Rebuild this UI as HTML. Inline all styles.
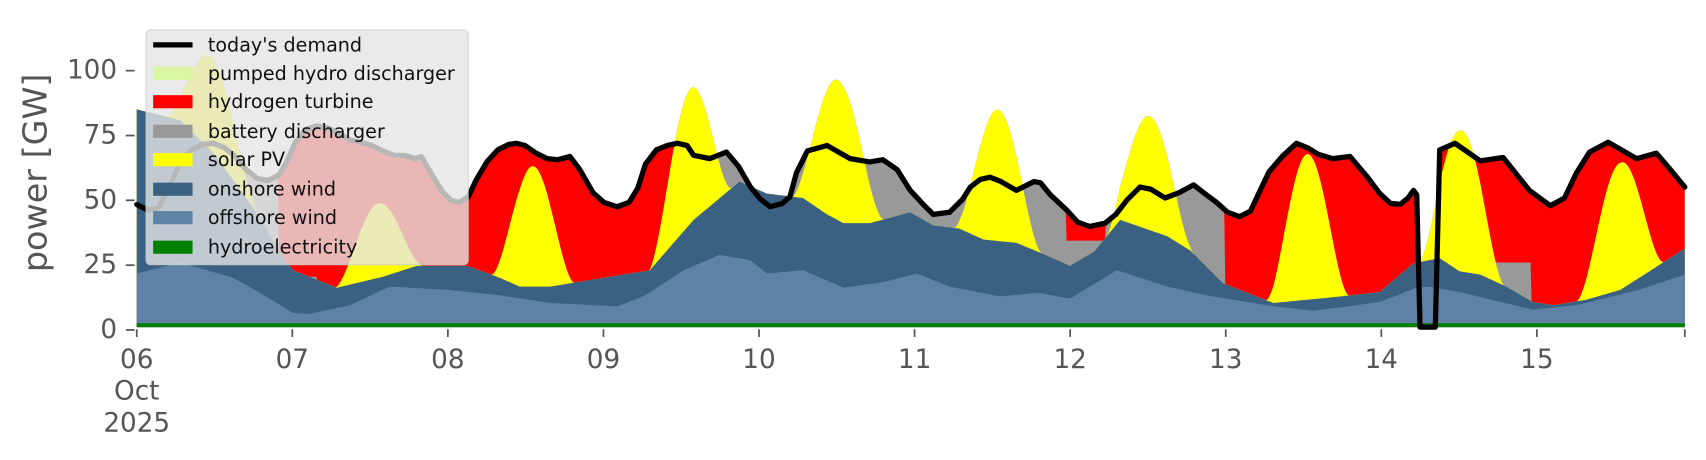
<!DOCTYPE html>
<html><head><meta charset="utf-8">
<style>
html,body{margin:0;padding:0;background:#fff;}
svg{display:block;}
text{font-family:"DejaVu Sans","Liberation Sans",sans-serif;}
</style></head>
<body>
<svg id="c" width="1706" height="460" viewBox="0 0 1559.4 420.5" preserveAspectRatio="none" xmlns="http://www.w3.org/2000/svg">
<g id="fills"></g>
<polyline id="dem" fill="none" stroke="#000" stroke-width="4.8" stroke-linejoin="round" stroke-linecap="round" points=""/>
<!-- legend -->
<rect x="133.5" y="27.4" width="294.5" height="214.6" rx="4" ry="4" fill="#e5e5e5" fill-opacity="0.8" stroke="#cccccc" stroke-opacity="0.8" stroke-width="1"/>
<line x1="140" y1="41" x2="176" y2="41" stroke="#000" stroke-width="4.8"/>
<rect x="140" y="61" width="36" height="12" fill="#d9f7a1"/>
<rect x="140" y="87" width="36" height="12" fill="#ff0000"/>
<rect x="140" y="114" width="36" height="12" fill="#999999"/>
<rect x="140" y="140" width="36" height="12" fill="#ffff00"/>
<rect x="140" y="167" width="36" height="12" fill="#3b6182"/>
<rect x="140" y="193" width="36" height="12" fill="#5d82a5"/>
<rect x="140" y="220" width="36" height="12" fill="#008000"/>
<g font-size="17.5" fill="#111" dominant-baseline="central">
<text x="190" y="41">today's demand</text>
<text x="190" y="67">pumped hydro discharger</text>
<text x="190" y="93">hydrogen turbine</text>
<text x="190" y="120">battery discharger</text>
<text x="190" y="146">solar PV</text>
<text x="190" y="173">onshore wind</text>
<text x="190" y="199">offshore wind</text>
<text x="190" y="226">hydroelectricity</text>
</g>
<!-- y axis -->
<g stroke="#555" stroke-width="1.6">
<line x1="115" y1="64.6" x2="123" y2="64.6"/>
<line x1="115" y1="123.9" x2="123" y2="123.9"/>
<line x1="115" y1="183.1" x2="123" y2="183.1"/>
<line x1="115" y1="242.4" x2="123" y2="242.4"/>
<line x1="115" y1="301.6" x2="123" y2="301.6"/>
</g>
<g font-size="24" fill="#555" text-anchor="end" dominant-baseline="central">
<text x="107" y="64.6">100</text>
<text x="107" y="123.9">75</text>
<text x="107" y="183.1">50</text>
<text x="107" y="242.4">25</text>
<text x="107" y="301.6">0</text>
</g>
<text transform="translate(32,158) rotate(-90)" font-size="30.5" fill="#555" text-anchor="middle" dominant-baseline="central">power [GW]</text>
<!-- x axis -->
<g id="xt" stroke="#555" stroke-width="1.6"></g>
<g font-size="24" fill="#555" text-anchor="middle" dominant-baseline="central">
<text x="125" y="329">06</text>
<text x="125" y="358">Oct</text>
<text x="125" y="387">2025</text>
<text x="267.2" y="329">07</text>
<text x="409.4" y="329">08</text>
<text x="551.6" y="329">09</text>
<text x="693.8" y="329">10</text>
<text x="836" y="329">11</text>
<text x="978.2" y="329">12</text>
<text x="1120.4" y="329">13</text>
<text x="1262.6" y="329">14</text>
<text x="1404.8" y="329">15</text>
</g>
</svg>
<script>
(function(){
var D=[125,187,135,192,145,190,155,170,165,148,175,137,185,132,195,131,205,135,215,143,225,155,235,163,245,165,255,160,262,148,270,130,280,118,290,115,300,117,310,122,320,128,330,130,340,133,350,138,360,142,370,142,380,145,385,143,395,160,405,176,412,183,420,185,428,180,435,165,445,148,455,137,465,132,472,131,480,133,490,140,500,145,510,146,521,143,530,155,542,176,552,185,564,189,575,185,583,172,590,150,600,137,610,133,619,131,628,133,634,142,649,145,664,139,675,152,686,171,695,182,704,189,715,186,722,180,728,158,738,138,756,133,777,145,795,148,807,146,820,155,832,174,845,188,853,196,868,194,880,182,887,171,896,164,905,162,915,166,929,174,945,166,951,167,960,178,975,192,985,203,996,207,1010,204,1020,196,1030,183,1042,171,1052,173,1065,181,1078,176,1091,169,1100,176,1112,185,1122,194,1133,198,1143,193,1150,178,1160,157,1172,143,1185,131,1195,135,1205,141,1218,145,1234,143,1250,162,1261,176.6,1271,186,1280,186.7,1287,181,1292,174,1295,178,1298,299,1312,299,1316,137,1330,131,1353,147,1374,144,1398,174,1417,188,1430,181,1441,158,1453,139,1470,130,1496,145,1514,140,1526,154,1540,171];
var ON=[125,100,165,110,195,140,231,189,262,240,268,247,308,263,350,253,381,243,427,243,457,254,475,262,503,262,521,259,594,247,634,201,676,166,701,177,734,181,756,196,771,204,795,204,832,194,853,206,877,209,899,219,929,222,951,231,978,243,1000,230,1024,201,1067,216,1088,229,1118,259,1164,277,1225,271,1261,267,1292,240.6,1316,236,1334,248,1353,251,1377,262,1401,276,1420,279,1450,274,1481,265,1514,244,1540,227];
var OFF=[125,250,165,240,213,254,228,262,268,286,283,287,320,279,356,262,411,265,457,270,503,277,564,280,588,271,625,247,658,233,686,238,701,250,734,247,771,263,807,258,838,250,868,262,914,271,945,268,951,268,978,273,1021,247,1067,262,1103,270,1164,280,1200,284,1225,281,1261,276,1295,263,1306,262,1334,267,1401,283,1441,279,1498,265,1540,251];
var bells=[[194,86,42],[346,68,40],[487,110,38],[631,123,38],[766,128,42],[912,120,40],[1051,104,40],[1195,133,38],[1336,129,39],[1481,116,40]];
var red=[[255,618],[975,1011],[1120,1296],[1318,1541]];
var gur=[[255,290,253],[975,1011,220],[1350,1400,240]];
function L(p,x){for(var i=0;i<p.length-2;i+=2){if(x<=p[i+2]){var t=(x-p[i])/(p[i+2]-p[i]);return p[i+1]+t*(p[i+3]-p[i+1]);}}return p[p.length-1];}
function inI(a,x){for(var i=0;i<a.length;i++)if(x>=a[i][0]&&x<a[i][1])return a[i];return null;}
var T=[],B=[],S=[],O=[],F=[],xs=[];
for(var x=125;x<=1540;x+=1){
 xs.push(x);
 var on=L(ON,x),off=L(OFF,x),d=L(D,x);
 var s=on;
 for(var k=0;k<bells.length;k++){var dx=x-bells[k][0];if(Math.abs(dx)<bells[k][2]){var c=Math.cos(Math.PI/2*dx/bells[k][2]);s-=bells[k][1]*Math.pow(c,1.7);}}
 var b,t;
 if(inI(red,x)){var g=inI(gur,x);b=g?Math.min(s,g[2]):s;t=Math.min(d,b);}
 else{b=Math.min(d,s);t=b;}
 T.push(t);B.push(b);S.push(s);O.push(on);F.push(off);
}
function path(arr,col){var p="M125,299";for(var i=0;i<xs.length;i++)p+=" L"+xs[i]+","+arr[i].toFixed(1);p+=" L1540,299 Z";return '<path d="'+p+'" fill="'+col+'"/>';}
var H=xs.map(function(){return 295.5;});
document.getElementById('fills').innerHTML=path(T,'#ff0000')+path(B,'#999999')+path(S,'#ffff00')+path(O,'#3b6182')+path(F,'#5d82a5')+path(H,'#008000');
var pts=[];for(var i=0;i<D.length;i+=2)pts.push(D[i]+","+D[i+1]);
document.getElementById('dem').setAttribute('points',pts.join(' '));
var xt='';for(var d=0;d<10;d++){var xx=125+142.2*d;xt+='<line x1="'+xx+'" y1="301" x2="'+xx+'" y2="308"/>';}
xt+='<line x1="1540" y1="301" x2="1540" y2="308"/>';
document.getElementById('xt').innerHTML=xt;
})();
</script>
</body></html>
